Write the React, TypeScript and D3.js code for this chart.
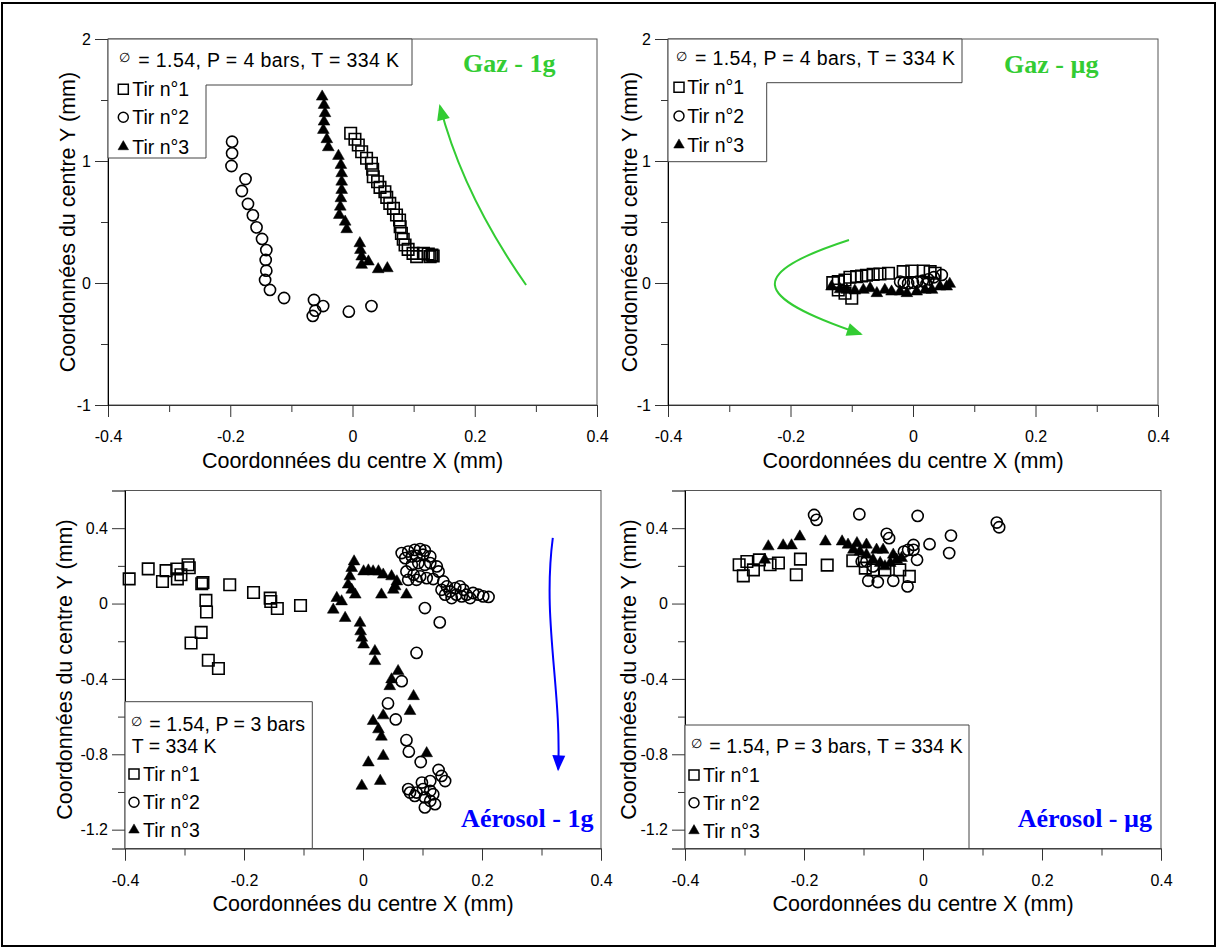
import React, { useEffect, useRef } from 'react';
import * as d3 from 'd3';

type P = [number, number];

// ---------- Data (mm) ----------
// Gaz - 1g
const gaz1gTir1: P[] = [
  [-0.003, 1.227], [0.004, 1.178], [0.0095, 1.131], [0.015, 1.076], [0.023, 1.022], [0.031, 0.981],
  [0.033, 0.932], [0.034, 0.871], [0.041, 0.83], [0.045, 0.784], [0.053, 0.748], [0.056, 0.702],
  [0.061, 0.653], [0.067, 0.612], [0.072, 0.557], [0.077, 0.516], [0.078, 0.461], [0.08, 0.407],
  [0.083, 0.358], [0.086, 0.311], [0.091, 0.276], [0.099, 0.243], [0.105, 0.216], [0.116, 0.243],
  [0.124, 0.238], [0.13, 0.23], [0.132, 0.221], [0.127, 0.216],
];
const gaz1gTir2: P[] = [
  [-0.197, 1.158], [-0.197, 1.063], [-0.198, 0.959], [-0.175, 0.852], [-0.181, 0.754], [-0.171, 0.648],
  [-0.163, 0.555], [-0.157, 0.456], [-0.148, 0.361], [-0.141, 0.27], [-0.142, 0.189], [-0.141, 0.101],
  [-0.143, 0.025], [-0.135, -0.057], [-0.112, -0.123], [-0.063, -0.139], [-0.048, -0.189],
  [-0.061, -0.227], [-0.065, -0.27], [-0.006, -0.235], [0.031, -0.189],
];
const gaz1gTir3: P[] = [
  [-0.0496, 1.527], [-0.0466, 1.459], [-0.045, 1.391], [-0.0466, 1.322], [-0.0477, 1.254], [-0.042, 1.178],
  [-0.0396, 1.112], [-0.023, 1.041], [-0.019, 0.967], [-0.0177, 0.899], [-0.0177, 0.83], [-0.0177, 0.762],
  [-0.019, 0.694], [-0.02, 0.625], [-0.0216, 0.557], [-0.012, 0.502], [-0.0095, 0.44], [0.012, 0.325],
  [0.013, 0.27], [0.015, 0.216], [0.015, 0.148], [0.026, 0.175], [0.042, 0.112], [0.057, 0.12],
];

// Gaz - µg
const gazUgTir1: P[] = [
  [-0.131, 0.003], [-0.122, 0.011], [-0.111, 0.025], [-0.103, 0.047], [-0.092, 0.052], [-0.084, 0.057],
  [-0.076, 0.063], [-0.065, 0.071], [-0.054, 0.074], [-0.04, 0.08], [-0.016, 0.093], [-0.002, 0.098],
  [0.017, 0.098], [0.028, 0.093], [0.036, 0.08], [-0.122, -0.057], [-0.111, -0.084], [-0.1, -0.125],
];
const gazUgTir2: P[] = [
  [-0.021, 0.011], [-0.015, 0.003], [-0.008, -0.003], [0.0, 0.003], [0.007, 0.011], [0.016, 0.019],
  [0.025, 0.03], [0.034, 0.047], [0.047, 0.066], [0.022, -0.008], [0.036, -0.003],
];
const gazUgTir3: P[] = [
  [-0.133, -0.03], [-0.119, -0.052], [-0.108, -0.057], [-0.095, -0.063], [-0.081, -0.057], [-0.07, -0.044],
  [-0.059, -0.084], [-0.046, -0.057], [-0.035, -0.071], [-0.021, -0.071], [-0.01, -0.084], [0.006, -0.071],
  [0.02, -0.057], [0.031, -0.057], [0.044, -0.03], [0.055, -0.03], [0.06, -0.008],
];

// Aérosol - 1g
const aero1gTir1: P[] = [
  [-0.393, 0.131], [-0.361, 0.184], [-0.331, 0.175], [-0.337, 0.117], [-0.313, 0.183], [-0.312, 0.131],
  [-0.306, 0.153], [-0.294, 0.206], [-0.292, 0.19], [-0.271, 0.105], [-0.269, 0.112], [-0.264, 0.017],
  [-0.263, -0.045], [-0.272, -0.153], [-0.289, -0.209], [-0.26, -0.301], [-0.243, -0.345],
  [-0.224, 0.1], [-0.184, 0.059], [-0.156, 0.029], [-0.155, 0.011], [-0.144, -0.026], [-0.105, -0.01],
];
const aero1gTir2: P[] = [
  [0.065, 0.268], [0.076, 0.276], [0.087, 0.285], [0.096, 0.289], [0.104, 0.281], [0.071, 0.241],
  [0.082, 0.25], [0.09, 0.253], [0.101, 0.259], [0.113, 0.25], [0.082, 0.206], [0.093, 0.215],
  [0.104, 0.206], [0.113, 0.215], [0.124, 0.197], [0.127, 0.17], [0.073, 0.17], [0.085, 0.153],
  [0.096, 0.144], [0.107, 0.135], [0.118, 0.13], [0.076, 0.126], [0.09, 0.126], [0.135, 0.117],
  [0.141, 0.091], [0.132, 0.073], [0.138, 0.047], [0.146, 0.064], [0.155, 0.082], [0.163, 0.091],
  [0.157, 0.047], [0.166, 0.038], [0.174, 0.047], [0.185, 0.056], [0.194, 0.047], [0.202, 0.038],
  [0.211, 0.035], [0.149, 0.029], [0.169, 0.073], [0.18, 0.029],
  [0.104, -0.024], [0.129, -0.1], [0.09, -0.262], [0.065, -0.412], [0.042, -0.53], [0.055, -0.615],
  [0.073, -0.725], [0.077, -0.786], [0.097, -0.841],
  [0.127, -0.883], [0.132, -0.915], [0.138, -0.942], [0.113, -0.942], [0.099, -0.95], [0.076, -0.985],
  [0.079, -1.003], [0.09, -1.003], [0.101, -0.985], [0.113, -0.994], [0.118, -1.012], [0.104, -1.029],
  [0.113, -1.047], [0.121, -1.065], [0.104, -1.082], [0.087, -1.021],
];
const aero1gTir3: P[] = [
  [-0.015, 0.223], [-0.019, 0.188], [-0.022, 0.144], [-0.025, 0.1], [-0.019, 0.073], [-0.013, 0.047],
  [-0.044, 0.029], [-0.036, 0.011], [-0.05, -0.033], [-0.03, -0.077], [-0.005, -0.103], [-0.004, -0.148],
  [-0.002, -0.182], [0.001, -0.218], [0.02, -0.253], [0.02, -0.306], [0.059, -0.359], [0.048, -0.403],
  [0.045, -0.439], [0.085, -0.492], [0.079, -0.571], [0.034, -0.594], [0.017, -0.624], [0.026, -0.668],
  [0.031, -0.707], [0.034, -0.809], [0.009, -0.844], [0.029, -0.942], [-0.002, -0.968], [0.107, -0.795],
  [0.001, 0.17], [0.009, 0.175], [0.017, 0.17], [0.026, 0.17], [0.034, 0.153], [0.048, 0.144],
  [0.057, 0.117], [0.054, 0.091], [0.051, 0.073], [0.073, 0.047], [0.031, 0.047],
];

// Aérosol - µg
const aeroUgTir1: P[] = [
  [-0.309, 0.206], [-0.302, 0.147], [-0.296, 0.223], [-0.285, 0.179], [-0.275, 0.232], [-0.257, 0.206],
  [-0.243, 0.215], [-0.213, 0.153], [-0.206, 0.236], [-0.161, 0.204], [-0.118, 0.227], [-0.097, 0.188],
  [-0.084, 0.179], [-0.064, 0.179], [-0.039, 0.179], [-0.023, 0.144],
];
const aeroUgTir2: P[] = [
  [-0.183, 0.47], [-0.179, 0.444], [-0.107, 0.474], [-0.009, 0.465], [0.124, 0.43], [0.128, 0.405],
  [-0.061, 0.37], [-0.057, 0.347], [0.047, 0.361], [0.044, 0.268], [0.011, 0.315], [-0.016, 0.311],
  [-0.016, 0.285], [-0.025, 0.285], [-0.01, 0.232], [-0.032, 0.276], [-0.092, 0.121], [-0.076, 0.114],
  [-0.05, 0.121], [-0.026, 0.091], [-0.103, 0.223], [-0.095, 0.223], [-0.084, 0.197],
];
const aeroUgTir3: P[] = [
  [-0.26, 0.303], [-0.235, 0.308], [-0.221, 0.308], [-0.207, 0.355], [-0.164, 0.329], [-0.136, 0.329],
  [-0.126, 0.312], [-0.111, 0.32], [-0.095, 0.312], [-0.078, 0.285], [-0.067, 0.285], [-0.05, 0.259],
  [-0.036, 0.241], [-0.117, 0.285], [-0.106, 0.276], [-0.095, 0.259], [-0.084, 0.232], [-0.072, 0.215],
  [-0.064, 0.197], [-0.055, 0.215], [-0.044, 0.232], [-0.266, 0.232],
];

// Arrows (data coordinates): start, control(s), end
const arrowGaz1g: P[] = [[0.284, -0.016], [0.181, 0.721], [0.143, 1.451]];
const arrowGazUg: P[] = [[-0.1045, 0.352], [-0.269, 0.082], [-0.269, -0.107], [-0.085, -0.418]];
const arrowAero1g: P[] = [[0.319, 0.349], [0.301, -0.086], [0.334, -0.456], [0.328, -0.88]];

// Ticks
const xMajor = [-0.4, -0.2, 0, 0.2, 0.4];
const xMinor = [-0.3, -0.1, 0.1, 0.3];
const yTopMajor = [-1, 0, 1, 2];
const yTopMinor = [-0.5, 0.5, 1.5];
const yBotMajor = [-1.2, -0.8, -0.4, 0, 0.4];
const yBotMinor = [-1.0, -0.6, -0.2, 0.2];

const seriesNames = ['Tir n°1', 'Tir n°2', 'Tir n°3'];
const xTitle = 'Coordonnées du centre X (mm)';
const yTitle = 'Coordonnées du centre Y (mm)';

const SANS = '"Liberation Sans", Arial, Helvetica, sans-serif';
const SERIF = '"Liberation Serif", "Times New Roman", Times, serif';
const GREEN = '#33cc33';
const BLUE = '#0000ff';

interface Legend {
  outline: P[];
  phiX: number; phiY: number;
  lines: { text: string; x: number; y: number; len?: number }[];
  markerX: number; markerYs: number[]; textX: number;
}

interface Panel {
  px: [number, number]; py: [number, number];
  yDomain: [number, number]; yMajor: number[]; yMinor: number[];
  series: P[][];
  yTitleX: number;
  label: string; labelColor: string; labelX: number; labelY: number; labelAnchor: string;
  arrow?: P[]; arrowColor?: string;
  legend: Legend;
}

const panels: Panel[] = [
  {
    px: [108, 597], py: [405, 39], yDomain: [-1, 2], yMajor: yTopMajor, yMinor: yTopMinor,
    series: [gaz1gTir1, gaz1gTir2, gaz1gTir3], yTitleX: 67,
    label: 'Gaz - 1g', labelColor: GREEN, labelX: 463, labelY: 72, labelAnchor: 'start',
    arrow: arrowGaz1g, arrowColor: GREEN,
    legend: {
      outline: [[108, 39], [412, 39], [412, 85], [206, 85], [206, 158], [108, 158]],
      phiX: 119, phiY: 62,
      lines: [{ text: '= 1.54, P = 4 bars, T = 334 K', x: 138.3, y: 66.7, len: 260.7 }],
      markerX: 123.3, markerYs: [89.3, 117.3, 146.7], textX: 132.3,
    },
  },
  {
    px: [668, 1158], py: [405, 39], yDomain: [-1, 2], yMajor: yTopMajor, yMinor: yTopMinor,
    series: [gazUgTir1, gazUgTir2, gazUgTir3], yTitleX: 629,
    label: 'Gaz - µg', labelColor: GREEN, labelX: 1004, labelY: 72.7, labelAnchor: 'start',
    arrow: arrowGazUg, arrowColor: GREEN,
    legend: {
      outline: [[668, 39], [962, 39], [962, 82.7], [766.7, 82.7], [766.7, 161.7], [668, 161.7]],
      phiX: 676, phiY: 60.5,
      lines: [{ text: '= 1.54, P = 4 bars, T = 334 K', x: 695, y: 65, len: 260 }],
      markerX: 679, markerYs: [87.3, 116, 145], textX: 687.3,
    },
  },
  {
    px: [125, 601], py: [848.5, 490.5], yDomain: [-1.3, 0.6], yMajor: yBotMajor, yMinor: yBotMinor,
    series: [aero1gTir1, aero1gTir2, aero1gTir3], yTitleX: 64,
    label: 'Aérosol - 1g', labelColor: BLUE, labelX: 593.5, labelY: 826.7, labelAnchor: 'end',
    arrow: arrowAero1g, arrowColor: BLUE,
    legend: {
      outline: [[125, 701.7], [312.3, 701.7], [312.3, 848.5], [125, 848.5]],
      phiX: 131, phiY: 726,
      lines: [
        { text: '= 1.54, P = 3 bars', x: 149.3, y: 730.7, len: 155.7 },
        { text: 'T = 334 K', x: 131.7, y: 752.7 },
      ],
      markerX: 134, markerYs: [774, 802.3, 830], textX: 143,
    },
  },
  {
    px: [685, 1161], py: [848.5, 490.5], yDomain: [-1.3, 0.6], yMajor: yBotMajor, yMinor: yBotMinor,
    series: [aeroUgTir1, aeroUgTir2, aeroUgTir3], yTitleX: 628,
    label: 'Aérosol - µg', labelColor: BLUE, labelX: 1152, labelY: 826.7, labelAnchor: 'end',
    legend: {
      outline: [[685, 725], [969, 725], [969, 848.5], [685, 848.5]],
      phiX: 691, phiY: 748.3,
      lines: [{ text: '= 1.54, P = 3 bars, T = 334 K', x: 709.3, y: 753.3, len: 253.4 }],
      markerX: 694, markerYs: [775, 802.7, 830.7], textX: 703,
    },
  },
];

const symbols = [
  d3.symbol().type(d3.symbolSquare).size(11.5 * 11.5)(),
  d3.symbol().type(d3.symbolCircle).size(Math.PI * 5.6 * 5.6)(),
  d3.symbol().type(d3.symbolTriangle).size(60)(),
];
const legendSymbols = [
  d3.symbol().type(d3.symbolSquare).size(10 * 10)(),
  d3.symbol().type(d3.symbolCircle).size(Math.PI * 5 * 5)(),
  d3.symbol().type(d3.symbolTriangle).size(48)(),
];

const fmt = (d: d3.NumberValue) => (+d === 0 ? '0' : String(+d));

export default function App() {
  const ref = useRef<SVGSVGElement | null>(null);

  useEffect(() => {
    const svg = d3.select(ref.current);
    svg.selectAll('*').remove();

    svg.append('rect').attr('x', 0).attr('y', 0).attr('width', 1219).attr('height', 950).attr('fill', '#fff');
    svg.append('rect').attr('x', 2).attr('y', 3).attr('width', 1213).attr('height', 943)
      .attr('fill', 'none').attr('stroke', '#000').attr('stroke-width', 2);

    panels.forEach((p) => {
      const x = d3.scaleLinear().domain([-0.4, 0.4]).range(p.px);
      const y = d3.scaleLinear().domain(p.yDomain).range(p.py);
      const g = svg.append('g');
      const [xl, xr] = p.px;
      const [yb, yt] = p.py;

      // frame
      g.append('rect').attr('x', xl).attr('y', yt).attr('width', xr - xl).attr('height', yb - yt)
        .attr('fill', 'none').attr('stroke', '#555').attr('stroke-width', 1);

      // x axis
      const gxMaj = g.append('g').attr('transform', `translate(0,${yb})`)
        .call(d3.axisBottom(x).tickValues(xMajor).tickSize(12).tickPadding(14).tickFormat(fmt));
      const gxMin = g.append('g').attr('transform', `translate(0,${yb})`)
        .call(d3.axisBottom(x).tickValues(xMinor).tickSize(7).tickFormat(() => ''));
      // y axis
      const gyMaj = g.append('g').attr('transform', `translate(${xl},0)`)
        .call(d3.axisLeft(y).tickValues(p.yMajor).tickSize(13).tickPadding(4).tickFormat(fmt));
      const gyMin = g.append('g').attr('transform', `translate(${xl},0)`)
        .call(d3.axisLeft(y).tickValues(p.yMinor).tickSize(7).tickFormat(() => ''));
      [gxMaj, gxMin, gyMaj, gyMin].forEach((a) => {
        a.attr('font-size', 16).attr('font-family', SANS);
        a.selectAll('line').attr('stroke', '#333');
        a.selectAll('text').attr('fill', '#000');
      });
      gxMaj.select('.domain').attr('stroke', '#333');
      gyMaj.select('.domain').attr('stroke', '#000');
      gxMin.select('.domain').remove();
      gyMin.select('.domain').remove();

      // axis titles
      g.append('text').attr('x', (xl + xr) / 2).attr('y', yb + 62.5)
        .attr('text-anchor', 'middle').attr('font-family', SANS).attr('font-size', 21.5).text(xTitle);
      g.append('text')
        .attr('transform', `translate(${p.yTitleX},${(yb + yt) / 2}) rotate(-90)`)
        .attr('text-anchor', 'middle').attr('dy', '0.35em')
        .attr('font-family', SANS).attr('font-size', 21.5).text(yTitle);

      // data
      p.series.forEach((s, i) => {
        g.append('g').selectAll('path').data(s).join('path')
          .attr('d', symbols[i])
          .attr('transform', (d) => `translate(${x(d[0])},${y(d[1])})`)
          .attr('fill', i === 2 ? '#000' : 'none')
          .attr('stroke', '#000')
          .attr('stroke-width', i === 2 ? 0.5 : 1.6);
      });

      // arrow
      if (p.arrow) {
        const pts = p.arrow.map((d) => [x(d[0]), y(d[1])] as [number, number]);
        const path = d3.path();
        path.moveTo(pts[0][0], pts[0][1]);
        if (pts.length === 3) path.quadraticCurveTo(pts[1][0], pts[1][1], pts[2][0], pts[2][1]);
        else path.bezierCurveTo(pts[1][0], pts[1][1], pts[2][0], pts[2][1], pts[3][0], pts[3][1]);
        const e = pts[pts.length - 1];
        const c = pts[pts.length - 2];
        const dx = e[0] - c[0], dy = e[1] - c[1];
        const L = Math.hypot(dx, dy);
        const ux = dx / L, uy = dy / L;
        const bx = e[0] - ux * 14, by = e[1] - uy * 14;
        g.append('path').attr('d', path.toString()).attr('fill', 'none')
          .attr('stroke', p.arrowColor!).attr('stroke-width', 2);
        const head = d3.path();
        head.moveTo(e[0] + ux * 2, e[1] + uy * 2);
        head.lineTo(bx - uy * 6.5, by + ux * 6.5);
        head.lineTo(bx + uy * 6.5, by - ux * 6.5);
        head.closePath();
        g.append('path').attr('d', head.toString()).attr('fill', p.arrowColor!);
      }

      // panel label
      g.append('text').attr('x', p.labelX).attr('y', p.labelY).attr('text-anchor', p.labelAnchor)
        .attr('font-family', SERIF).attr('font-weight', 'bold').attr('font-size', 26)
        .attr('fill', p.labelColor).text(p.label);

      // legend
      const lg = p.legend;
      g.append('path').attr('d', d3.line()(lg.outline)! + 'Z')
        .attr('fill', '#fff').attr('stroke', '#444').attr('stroke-width', 1);
      g.append('text').attr('x', lg.phiX).attr('y', lg.phiY).attr('font-family', SANS)
        .attr('font-size', 13).text('∅');
      lg.lines.forEach((l) => {
        const t = g.append('text').attr('x', l.x).attr('y', l.y).attr('font-family', SANS)
          .attr('font-size', 19.5).text(l.text);
        if (l.len) t.attr('textLength', l.len).attr('lengthAdjust', 'spacing');
      });
      seriesNames.forEach((n, i) => {
        g.append('path').attr('d', legendSymbols[i])
          .attr('transform', `translate(${lg.markerX},${lg.markerYs[i]})`)
          .attr('fill', i === 2 ? '#000' : 'none').attr('stroke', '#000')
          .attr('stroke-width', i === 2 ? 0.5 : 1.5);
        g.append('text').attr('x', lg.textX).attr('y', lg.markerYs[i] + 7)
          .attr('font-family', SANS).attr('font-size', 19.5).text(n);
      });
    });
  }, []);

  return (
    <svg ref={ref} width={1219} height={950}
      style={{ position: 'absolute', left: 0, top: 0, display: 'block' }} />
  );
}
